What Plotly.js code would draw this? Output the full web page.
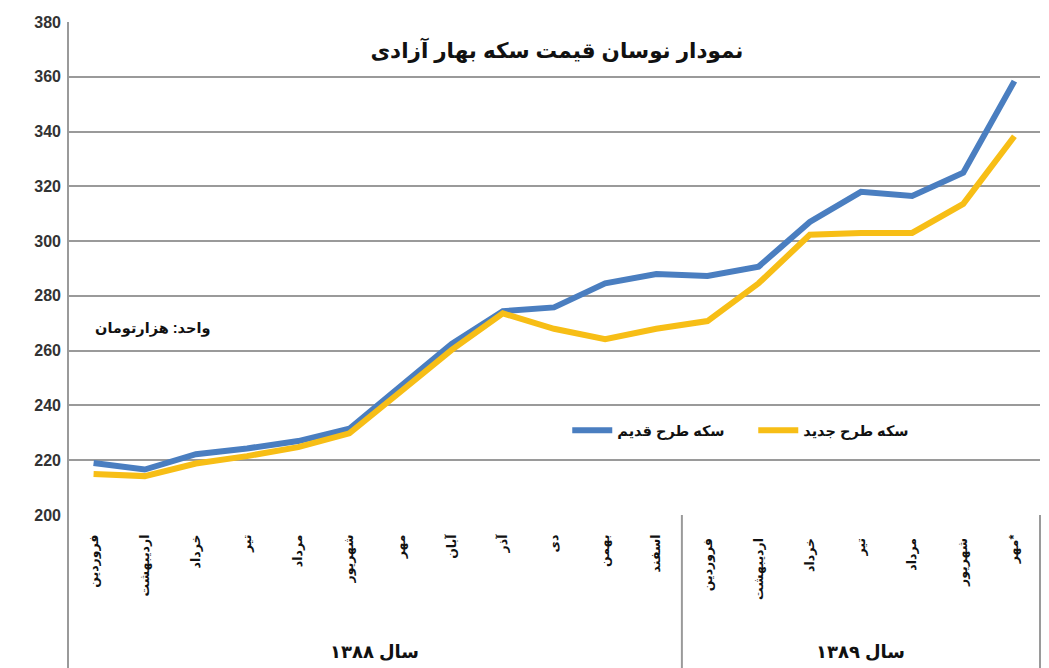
<!DOCTYPE html>
<html>
<head>
<meta charset="utf-8">
<script src="https://cdn.plot.ly/plotly-3.0.1.min.js"></script>
<style>
  html, body { margin: 0; padding: 0; background: #fff; }
  #chart { width: 1049px; height: 668px; }
</style>
</head>
<body>
<div id="chart"></div>
<script>
// Month labels (1388: 12 months, 1389: 7 months)
const months = [
  'فروردین', 'اردیبهشت', 'خرداد', 'تیر', 'مرداد', 'شهریور',
  'مهر', 'آبان', 'آذر', 'دی', 'بهمن', 'اسفند',
  'فروردین ', 'اردیبهشت ', 'خرداد ', 'تیر ', 'مرداد ', 'شهریور ', 'مهر*'
];
// Old design coin (thousand toman)
const oldDesign = [219, 216.6, 222.2, 224.3, 227, 231.5, 247, 262.5, 274.4, 275.8, 284.6, 288,
                   287.3, 290.7, 307, 318, 316.5, 325, 358.4];
// New design coin (thousand toman)
const newDesign = [215, 214.2, 218.8, 221.5, 224.8, 229.8, 245, 260.3, 273.6, 268, 264.2, 268,
                   270.8, 284.6, 302.3, 303, 303, 313.6, 338.3];
const seriesNames = ['سکه طرح قدیم', 'سکه طرح جدید'];
const yearLabels = ['سال ۱۳۸۸', 'سال ۱۳۸۹'];
const yearGroups = [[0, 11], [12, 18]];
const chartTitle = 'نمودار نوسان قیمت سکه بهار آزادی';
const unitNote = 'واحد: هزارتومان';

const FONT = 'Arial, "Liberation Sans", "DejaVu Sans", sans-serif';

const traces = [
  { x: months, y: oldDesign, name: seriesNames[0], type: 'scatter', mode: 'lines',
    line: { color: '#4a7ec0', width: 6 }, hoverinfo: 'y' },
  { x: months, y: newDesign, name: seriesNames[1], type: 'scatter', mode: 'lines',
    line: { color: '#f7be16', width: 6 }, hoverinfo: 'y' }
];

const bottomY = -153 / 493;
const shapes = [
  { type: 'line', xref: 'paper', yref: 'paper', x0: 0, x1: 0, y0: bottomY, y1: 1,
    line: { color: '#9a9a9a', width: 2 } },
  { type: 'line', xref: 'paper', yref: 'paper', x0: 1, x1: 1, y0: bottomY, y1: 0,
    line: { color: '#9a9a9a', width: 2 } },
  { type: 'line', xref: 'x', yref: 'paper', x0: yearGroups[0][1] + 0.5, x1: yearGroups[0][1] + 0.5,
    y0: bottomY, y1: 0, line: { color: '#9a9a9a', width: 2 } }
];

const annotations = yearLabels.map((t, i) => ({
  text: '<b>' + t + '</b>', xref: 'x', yref: 'paper',
  x: (yearGroups[i][0] + yearGroups[i][1]) / 2, y: -137 / 493,
  showarrow: false, font: { family: FONT, size: 18, color: '#111' },
  xanchor: 'center', yanchor: 'middle'
}));
annotations.push({
  text: '<b>' + unitNote + '</b>', xref: 'paper', yref: 'paper',
  x: 0.0866, y: 0.379, showarrow: false,
  font: { family: FONT, size: 14.5, color: '#111' }, xanchor: 'center', yanchor: 'middle'
});

const layout = {
  width: 1049, height: 668,
  margin: { l: 68, r: 9, t: 22, b: 153 },
  paper_bgcolor: '#ffffff', plot_bgcolor: '#ffffff',
  title: {
    text: '<b>' + chartTitle + '</b>', xref: 'paper', yref: 'paper',
    x: 0.503, y: 0.943, xanchor: 'center', yanchor: 'middle',
    font: { family: FONT, size: 21.5, color: '#111' }
  },
  xaxis: {
    type: 'category', tickangle: -90, showgrid: false, zeroline: false,
    showline: false, ticks: '', ticklabelstandoff: 16,
    tickfont: { family: FONT, size: 12.5, color: '#111', weight: 'bold' },
    range: [-0.5, months.length - 0.5], fixedrange: true
  },
  yaxis: {
    range: [200, 380], dtick: 20, tick0: 200, showgrid: true,
    gridcolor: '#9a9a9a', gridwidth: 2, zeroline: false, showline: false,
    ticks: '', ticklabelstandoff: 6,
    tickfont: { family: FONT, size: 16, color: '#333', weight: 'bold' },
    fixedrange: true
  },
  showlegend: true,
  legend: {
    orientation: 'h', xref: 'paper', yref: 'paper', x: 0.705, y: 0.172,
    xanchor: 'center', yanchor: 'middle', bgcolor: 'rgba(0,0,0,0)',
    font: { family: FONT, size: 14.5, color: '#111', weight: 'bold' },
    itemwidth: 40, traceorder: 'normal',
    entrywidth: 131, entrywidthmode: 'pixels'
  },
  shapes: shapes,
  annotations: annotations
};

Plotly.newPlot('chart', traces, layout, { displayModeBar: false, staticPlot: true });
</script>
</body>
</html>
